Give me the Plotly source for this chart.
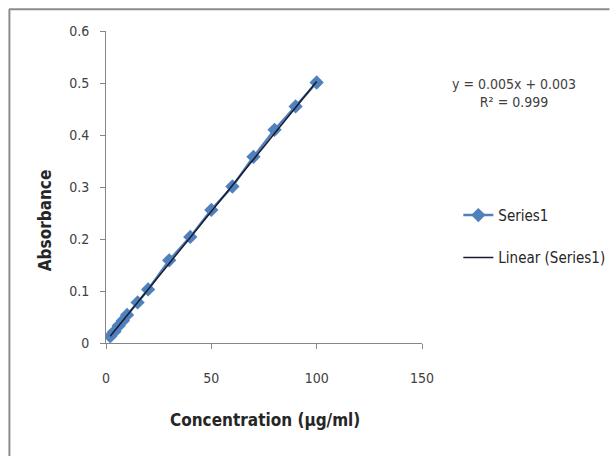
import plotly.graph_objects as go

# Data
conc = [2, 4, 6, 8, 10, 15, 20, 30, 40, 50, 60, 70, 80, 90, 100]
absorb = [0.013, 0.022, 0.033, 0.043, 0.054, 0.078, 0.103, 0.159, 0.204,
          0.256, 0.301, 0.358, 0.410, 0.455, 0.501]
slope = 0.005
intercept = 0.003
r2 = 0.999
x_ticks = [0, 50, 100, 150]
y_ticks = [0, 0.1, 0.2, 0.3, 0.4, 0.5, 0.6]

W, H = 610, 456
L, R, T, B = 106, 421.7, 30.7, 342.7
pw, ph = R - L, B - T

def px(xp):
    return (xp - L) / pw

def py(yp):
    return (B - yp) / ph

FONT = "Liberation Sans Narrow, DejaVu Sans Condensed, Arial Narrow, sans-serif"
blue = "#4F81BD"

trend_x = [conc[0], conc[-1]]
trend_y = [slope * v + intercept for v in trend_x]

fig = go.Figure()
fig.add_trace(go.Scatter(
    x=conc, y=absorb, mode="lines+markers", name="Series1",
    line=dict(color=blue, width=2.5),
    marker=dict(symbol="diamond", size=11, color=blue),
    legendgroup="a",
))
fig.add_trace(go.Scatter(
    x=trend_x, y=trend_y, mode="lines", name="Linear (Series1)",
    line=dict(color="#1a1a2e", width=1.5),
    legendgroup="b",
))

axis_common = dict(
    showgrid=False, zeroline=False, showline=True, linecolor="#868686",
    linewidth=1, ticks="outside", ticklen=5, tickcolor="#868686",
    tickfont=dict(family=FONT, size=14, color="#404040"),
)

fig.update_layout(
    width=W, height=H,
    margin=dict(l=L, r=W - R, t=T, b=H - B, autoexpand=False),
    paper_bgcolor="white", plot_bgcolor="white",
    font=dict(family=FONT, color="#262626"),
    xaxis=dict(range=[0, 150], tickvals=x_ticks, ticklabelstandoff=17,
               **axis_common),
    yaxis=dict(range=[0, 0.6], tickvals=y_ticks,
               ticktext=[f"{v:g}" for v in y_ticks], ticklabelstandoff=8,
               **axis_common),
    legend=dict(x=px(458), y=py(236), xanchor="left", yanchor="middle",
                bgcolor="rgba(0,0,0,0)", tracegroupgap=20,
                font=dict(family=FONT, size=15, color="#262626")),
    showlegend=True,
)

fig.add_annotation(
    x=px(514), y=py(93), xref="paper", yref="paper",
    xanchor="center", yanchor="middle",
    text=f"y = {slope}x + {intercept}<br>R² = {r2}",
    showarrow=False, align="center",
    font=dict(family=FONT, size=14, color="#404040"),
)

# axis titles
fig.add_annotation(
    x=px(265), y=py(420), xref="paper", yref="paper",
    xanchor="center", yanchor="middle", showarrow=False,
    text="<b>Concentration (µg/ml)</b>",
    font=dict(family=FONT, size=17, color="#262626"),
)
fig.add_annotation(
    x=px(45), y=py(220), xref="paper", yref="paper",
    xanchor="center", yanchor="middle", showarrow=False, textangle=-90,
    text="<b>Absorbance</b>",
    font=dict(family=FONT, size=17, color="#262626"),
)

# chart outer border (top and left edges; right/bottom lie outside the view)
border = dict(color="#8c8c8c", width=2)
fig.add_shape(type="line", xref="paper", yref="paper",
              x0=px(9), x1=px(609), y0=py(9), y1=py(9),
              line=border, layer="above")
fig.add_shape(type="line", xref="paper", yref="paper",
              x0=px(9.5), x1=px(9.5), y0=py(9), y1=py(470),
              line=border, layer="above")

fig.write_html("out.html")
